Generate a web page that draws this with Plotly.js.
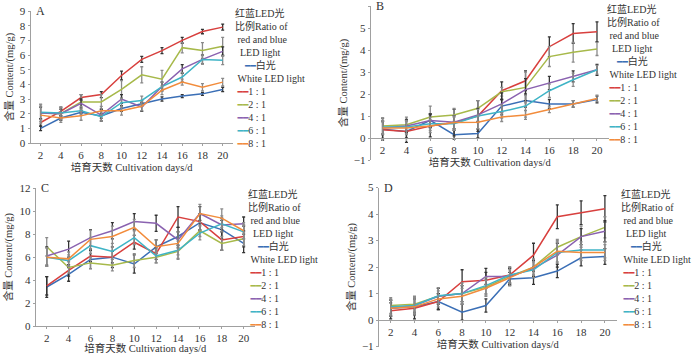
<!DOCTYPE html>
<html>
<head>
<meta charset="utf-8">
<script src="https://cdn.plot.ly/plotly-3.0.1.min.js"></script>
<style>html,body{margin:0;padding:0;background:#fff;}#chart{width:700px;height:354px;}</style>
</head>
<body>
<div id="chart"></div>
<script>
// ---- data ----
const days = [2, 4, 6, 8, 10, 12, 14, 16, 18, 20];
const seriesNames = ['白光', '1 : 1', '2 : 1', '4 : 1', '6 : 1', '8 : 1'];
const panelLabels = ['A', 'B', 'C', 'D'];
const legendTitle = ['红蓝LED光', '比例Ratio of', 'red and blue', 'LED light'];
const whiteSubtitle = 'White LED light';
const xTitle = '培育天数 Cultivation days/d';
const yTitle = '含量 Content/(mg/g)';

// Panel A
const A_white = [1.0, 1.7, 2.1, 1.85, 2.35, 2.7, 3.0, 3.2, 3.35, 3.65];
const A_r11   = [1.4, 2.15, 3.1, 3.3, 4.6, 5.7, 6.3, 7.0, 7.6, 7.9];
const A_r21   = [2.05, 2.0, 2.8, 2.8, 3.65, 4.65, 4.35, 6.5, 6.3, 6.6];
const A_r41   = [2.05, 2.0, 2.7, 1.9, 3.0, 2.45, 3.85, 5.05, 5.7, 6.25];
const A_r61   = [2.1, 2.05, 2.2, 1.8, 2.75, 2.9, 3.85, 4.5, 5.7, 5.65];
const A_r81   = [1.9, 1.7, 1.85, 2.2, 2.2, 2.5, 3.6, 4.15, 3.8, 4.15];
const A_err_white = [0.15, 0.15, 0.1, 0.15, 0.2, 0.2, 0.15, 0.1, 0.1, 0.15];
const A_err_r11   = [0.25, 0.3, 0.2, 0.2, 0.3, 0.2, 0.2, 0.2, 0.15, 0.2];
const A_err_r21   = [0.6, 0.4, 0.5, 0.5, 0.6, 0.55, 0.6, 0.35, 0.55, 0.6];
const A_err_r41   = [0.4, 0.3, 0.3, 0.4, 0.3, 0.3, 0.3, 0.3, 0.3, 0.3];
const A_err_r61   = [0.5, 0.4, 0.3, 0.3, 0.3, 0.3, 0.3, 0.3, 0.3, 0.3];
const A_err_r81   = [0.6, 0.3, 0.3, 0.3, 0.3, 0.3, 0.3, 0.2, 0.25, 0.25];

// Panel B
const B_white = [0.4, 0.3, 0.8, 0.15, 0.2, 1.45, 1.7, 1.55, 1.55, 1.75];
const B_r11   = [0.38, 0.3, 0.55, 0.7, 1.0, 2.15, 2.6, 4.15, 4.75, 4.83];
const B_r21   = [0.55, 0.6, 0.95, 1.05, 1.35, 2.1, 2.3, 3.7, 3.9, 4.05];
const B_r41   = [0.45, 0.55, 0.8, 0.72, 1.05, 1.55, 2.2, 2.5, 2.8, 3.1];
const B_r61   = [0.5, 0.5, 0.65, 0.65, 1.0, 1.2, 1.45, 2.15, 2.65, 3.1];
const B_r81   = [0.45, 0.45, 0.55, 0.7, 0.72, 0.95, 1.05, 1.3, 1.55, 1.8];
const B_err_white = [0.5, 0.3, 0.3, 0.2, 0.2, 0.3, 0.3, 0.2, 0.15, 0.15];
const B_err_r11   = [0.4, 0.5, 0.5, 0.6, 0.7, 0.4, 0.45, 0.45, 0.45, 0.45];
const B_err_r21   = [0.35, 0.35, 0.5, 0.3, 0.35, 0.2, 0.7, 0.45, 0.45, 0.3];
const B_err_r41   = [0.3, 0.3, 0.3, 0.3, 0.3, 0.5, 0.5, 0.3, 0.25, 0.25];
const B_err_r61   = [0.3, 0.3, 0.3, 0.3, 0.3, 0.3, 0.5, 0.3, 0.3, 0.2];
const B_err_r81   = [0.3, 0.3, 0.3, 0.3, 0.3, 0.2, 0.2, 0.15, 0.15, 0.15];

// Panel C
const C_white = [3.4, 4.5, 5.8, 6.0, 5.4, 6.9, 7.8, 9.0, 8.4, 7.2];
const C_r11   = [3.5, 4.85, 6.1, 6.0, 7.3, 6.3, 9.5, 9.1, 7.5, 7.8];
const C_r21   = [6.9, 5.1, 5.5, 5.3, 5.7, 6.0, 6.5, 8.3, 7.2, 7.6];
const C_r41   = [6.1, 6.7, 7.7, 8.3, 9.1, 8.95, 7.5, 9.8, 8.8, 8.9];
const C_r61   = [6.0, 5.7, 7.0, 6.5, 7.7, 6.1, 6.6, 8.1, 8.9, 8.2];
const C_r81   = [6.0, 5.85, 7.55, 7.8, 8.6, 6.9, 7.2, 9.8, 9.4, 8.3];
const C_err_white = [0.9, 0.6, 0.8, 0.9, 0.8, 0.6, 0.8, 0.7, 0.8, 0.8];
const C_err_r11   = [0.8, 0.5, 0.5, 0.5, 0.6, 0.5, 0.9, 0.7, 0.9, 0.9];
const C_err_r21   = [0.8, 0.5, 0.5, 0.5, 0.6, 0.5, 0.6, 0.5, 0.6, 0.6];
const C_err_r41   = [0.8, 0.7, 0.7, 0.7, 0.7, 0.7, 0.7, 0.6, 0.6, 0.6];
const C_err_r61   = [0.8, 0.5, 0.7, 0.7, 0.6, 0.6, 0.8, 0.6, 0.7, 0.6];
const C_err_r81   = [0.8, 0.6, 0.8, 0.9, 0.7, 0.6, 1.0, 0.8, 0.8, 0.7];

// Panel D
const D_white = [0.45, 0.5, 0.7, 0.3, 0.55, 1.55, 1.6, 1.85, 2.35, 2.4];
const D_r11   = [0.35, 0.45, 0.7, 1.45, 1.5, 1.7, 2.45, 3.9, 4.05, 4.2];
const D_r21   = [0.55, 0.6, 0.9, 1.0, 1.25, 1.65, 2.0, 2.75, 3.15, 3.5];
const D_r41   = [0.45, 0.55, 0.9, 1.0, 1.65, 1.65, 1.95, 2.45, 3.15, 3.35];
const D_r61   = [0.5, 0.55, 0.92, 1.0, 1.3, 1.7, 1.9, 2.55, 2.65, 2.65];
const D_r81   = [0.45, 0.5, 0.8, 0.9, 1.2, 1.6, 2.0, 2.6, 2.55, 2.55];
const D_err_white = [0.3, 0.3, 0.3, 0.3, 0.25, 0.25, 0.25, 0.25, 0.3, 0.3];
const D_err_r11   = [0.3, 0.4, 0.3, 0.45, 0.3, 0.3, 0.45, 0.45, 0.45, 0.5];
const D_err_r21   = [0.3, 0.3, 0.3, 0.4, 0.3, 0.3, 0.3, 0.3, 0.4, 0.4];
const D_err_r41   = [0.3, 0.3, 0.3, 0.3, 0.3, 0.3, 0.3, 0.45, 0.3, 0.4];
const D_err_r61   = [0.3, 0.3, 0.3, 0.3, 0.3, 0.3, 0.3, 0.4, 0.3, 0.3];
const D_err_r81   = [0.3, 0.3, 0.3, 0.3, 0.3, 0.3, 0.3, 0.4, 0.3, 0.3];

// ---- styles ----
const lineColors = ['#3b6fb6', '#d8403e', '#a7b94a', '#8a62b0', '#3fb4c6', '#f28c3c'];
const errColors  = ['#333333', '#333333', '#8a8a8a', '#333333', '#8a8a8a', '#8a8a8a'];
const FONT = '"Liberation Serif", "Times New Roman", "Noto Sans CJK SC", serif';

const panels = [
  {vals: [A_white, A_r11, A_r21, A_r41, A_r61, A_r81], errs: [A_err_white, A_err_r11, A_err_r21, A_err_r41, A_err_r61, A_err_r81], xa: 'x', ya: 'y'},
  {vals: [B_white, B_r11, B_r21, B_r41, B_r61, B_r81], errs: [B_err_white, B_err_r11, B_err_r21, B_err_r41, B_err_r61, B_err_r81], xa: 'x2', ya: 'y2'},
  {vals: [C_white, C_r11, C_r21, C_r41, C_r61, C_r81], errs: [C_err_white, C_err_r11, C_err_r21, C_err_r41, C_err_r61, C_err_r81], xa: 'x3', ya: 'y3'},
  {vals: [D_white, D_r11, D_r21, D_r41, D_r61, D_r81], errs: [D_err_white, D_err_r11, D_err_r21, D_err_r41, D_err_r61, D_err_r81], xa: 'x4', ya: 'y4'}
];

const traces = [];
panels.forEach(p => {
  p.vals.forEach((v, i) => {
    traces.push({
      type: 'scatter', mode: 'lines',
      x: days, y: v, name: seriesNames[i],
      xaxis: p.xa, yaxis: p.ya, showlegend: false,
      line: {color: lineColors[i], width: 1.5},
      error_y: {type: 'data', array: p.errs[i], visible: true, color: errColors[i], thickness: 1.3, width: 1.5}
    });
  });
});

const W = 700, H = 354;
const fx = px => px / W;
const fy = py => 1 - py / H;

const TICKFONT = {family: FONT, size: 11, color: '#333'};
const TITLEFONT = {family: FONT, size: 10.5, color: '#333'};
const axBase = {
  showline: true, linecolor: '#a0a0a0', linewidth: 1,
  ticks: 'outside', ticklen: 2, tickcolor: '#a0a0a0',
  showgrid: false, zeroline: false,
  tickfont: TICKFONT
};
function xAx(domain, anchor, extra) {
  return Object.assign({}, axBase, {domain: domain, anchor: anchor, range: [1, 21], tickvals: days,
    title: {text: xTitle, font: TITLEFONT, standoff: 3}}, extra || {});
}
function yAx(domain, anchor, range, dtick) {
  return Object.assign({}, axBase, {domain: domain, anchor: anchor, range: range, dtick: dtick, tick0: 0,
    title: {text: yTitle, font: TITLEFONT, standoff: 4}});
}

const layout = {
  width: W, height: H,
  margin: {l: 0, r: 0, t: 0, b: 0},
  paper_bgcolor: '#fff', plot_bgcolor: 'rgba(0,0,0,0)',
  showlegend: false,
  font: {family: FONT, color: '#333'},
  xaxis:  xAx([fx(30.5), fx(232.8)], 'y'),
  yaxis:  yAx([fy(143), fy(11)], 'x', [0, 9], 1),
  xaxis2: xAx([fx(370.7), fx(608.9)], 'free', {position: fy(137.7)}),
  yaxis2: yAx([fy(160), fy(6)], 'x2', [-1, 6], 1),
  xaxis3: xAx([fx(35.8), fx(254.6)], 'y3'),
  yaxis3: yAx([fy(326), fy(188.3)], 'x3', [0, 12], 2),
  xaxis4: xAx([fx(378.8), fx(616.8)], 'free', {position: fy(320)}),
  yaxis4: yAx([fy(346.6), fy(187.6)], 'x4', [-1, 5], 1),
  annotations: []
};

// panel letters
const axPairs = [['x', 'y'], ['x2', 'y2'], ['x3', 'y3'], ['x4', 'y4']];
panelLabels.forEach((lab, k) => {
  layout.annotations.push({
    xref: axPairs[k][0] + ' domain', yref: axPairs[k][1] + ' domain',
    x: 0.015, y: 1, xanchor: 'left', yanchor: 'middle', showarrow: false,
    text: lab, font: {family: FONT, size: 12, color: '#333'}
  });
});

// legends (text block with coloured line samples)
const NB = '\u00a0';
function sample(c) {
  return '<span style="color:' + c + ';font-family:\'DejaVu Sans Mono\';font-size:9px">━━</span>';
}
function legendText() {
  const lines = [];
  lines.push(legendTitle[0]);
  lines.push(legendTitle[1]);
  lines.push(NB + legendTitle[2]);
  lines.push(NB + NB + legendTitle[3]);
  lines.push(NB + NB + NB + NB + sample(lineColors[0]) + seriesNames[0]);
  lines.push(NB + whiteSubtitle);
  for (let i = 1; i < seriesNames.length; i++) {
    lines.push(NB + sample(lineColors[i]) + seriesNames[i]);
  }
  return lines.join('<br>');
}
const legendPos = [[233, 5], [605, 1], [246, 186], [619, 186]];
legendPos.forEach(pp => {
  layout.annotations.push({
    xref: 'paper', yref: 'paper', x: fx(pp[0]), y: fy(pp[1]),
    xanchor: 'left', yanchor: 'top', align: 'left', showarrow: false,
    text: legendText(), font: {family: FONT, size: 10, color: '#333'}
  });
});

Plotly.newPlot('chart', traces, layout, {staticPlot: true, displayModeBar: false});
</script>
</body>
</html>
